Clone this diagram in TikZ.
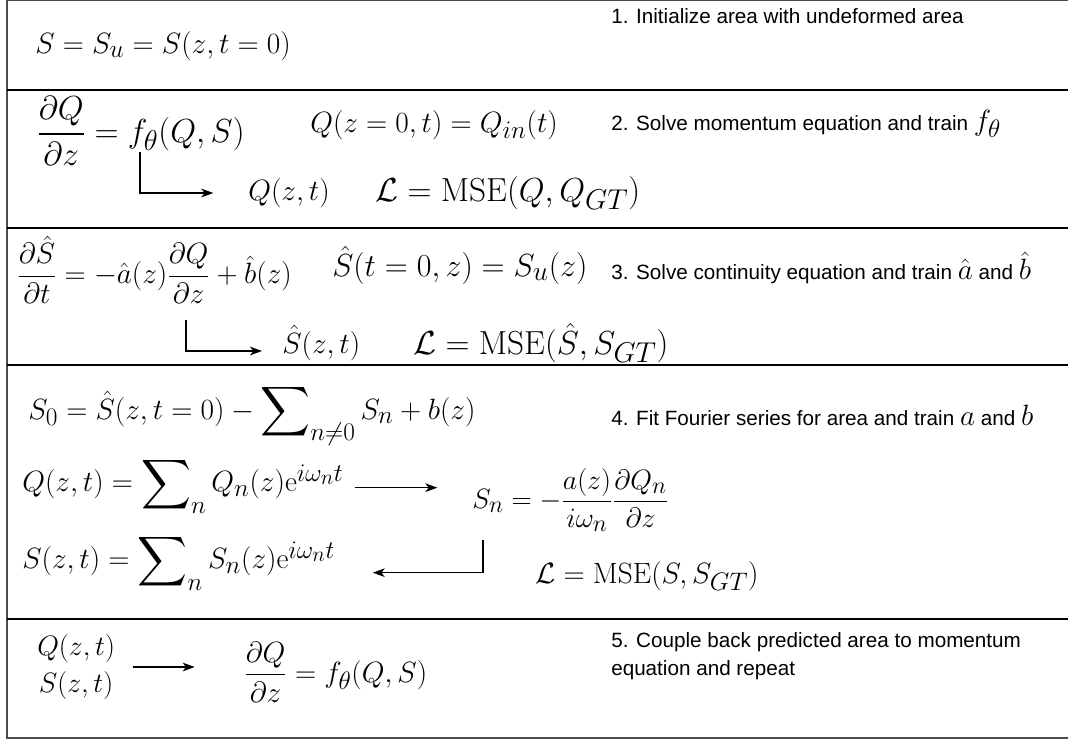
\RequirePackage{fix-cm}
\documentclass[tikz,border=0pt]{standalone}
\usepackage{amsmath}
\usepackage{graphicx}
\usepackage{fontspec}
\setsansfont{Liberation Sans}
\usetikzlibrary{arrows.meta}

\DeclareMathSizes{21}{21}{18}{15}
\DeclareMathSizes{22}{22}{19}{16}
\DeclareMathSizes{24}{24}{20.5}{17}
\DeclareMathSizes{25}{25}{21.5}{18}
\newcommand{\eqfont}{\fontsize{22}{26}\selectfont}
\newcommand{\eqsize}[1]{\fontsize{#1}{28}\selectfont}
\newcommand{\bigsum}{\mathop{\vcenter{\hbox{\scalebox{1.25}{$\displaystyle\sum$}}}}\nolimits}

\begin{document}
\begin{tikzpicture}[
    x=0.75pt, y=-0.75pt,
    eqn/.style={inner sep=0pt, anchor=west, font=\eqfont},
    note/.style={inner sep=0pt, anchor=west, font=\sffamily\fontsize{15.5}{21}\selectfont},
    sep/.style={line width=1.6pt},
    frame/.style={line width=0.9pt, black!70},
    flow/.style={-{Stealth[length=9pt, width=6.5pt, inset=2.5pt]}, line width=1pt}
]
\useasboundingbox (0,0) rectangle (1068,740);

% ===== FRAME AND SEPARATORS =====
\draw[frame] (1068,0.5) -- (7,0.5) -- (7,738) -- (1068,738);
\foreach \y in {90,228,365,619} \draw[sep] (7,\y) -- (1068,\y);

% ===== STEP 1: initial area =====
\node[eqn] (init) at (35,46) {$S = S_u = S(z,t=0)$};
\node[note] (step1) at (611,16) {1. Initialize area with undeformed area};

% ===== STEP 2: momentum equation =====
\node[eqn, font=\eqsize{25}] (mom) at (37,131) {$\displaystyle\frac{\partial Q}{\partial z} = f_\theta(Q,S)$};
\node[eqn] (momBC) at (310,125) {$Q(z=0,t) = Q_{in}(t)$};
\node[note] (step2) at (611,124) {2. Solve momentum equation and train {\eqfont$f_\theta$}};
\node[eqn] (Qzt) at (248,193) {$Q(z,t)$};
\node[eqn, font=\eqsize{25}] (lossQ) at (375,193) {$\mathcal{L} = \mathrm{MSE}(Q, Q_{GT})$};
\coordinate (k2) at (140,152);
\draw[flow, shorten >=26pt] (k2) |- (Qzt.west);

% ===== STEP 3: continuity equation =====
\node[eqn] (cont) at (17,270) {$\displaystyle\frac{\partial \hat{S}}{\partial t} = -\hat{a}(z)\frac{\partial Q}{\partial z} + \hat{b}(z)$};
\node[eqn, font=\eqsize{24}] (contIC) at (332,265) {$\hat{S}(t=0,z) = S_u(z)$};
\node[note] (step3) at (611,268) {3. Solve continuity equation and train {\eqfont$\hat{a}$} and {\eqfont$\hat{b}$}};
\node[eqn] (Shat) at (282,343) {$\hat{S}(z,t)$};
\node[eqn, font=\eqsize{25}] (lossS) at (413,343) {$\mathcal{L} = \mathrm{MSE}(\hat{S}, S_{GT})$};
\coordinate (k3) at (186,320);
\draw[flow, shorten >=15pt] (k3) |- ([yshift=-6pt]Shat.west);

% ===== STEP 4: Fourier series =====
\node[eqn] (S0) at (28,415) {$S_0 = \hat{S}(z,t=0) - \bigsum_{n\neq 0} S_n + b(z)$};
\node[note] (step4) at (611,415) {4. Fit Fourier series for area and train {\eqfont$a$} and {\eqfont$b$}};
\node[eqn] (Qsum) at (22,485) {$Q(z,t) = \bigsum_n Q_n(z) \mathrm{e}^{i\omega_n t}$};
\node[eqn, font=\eqsize{21}] (Sn) at (472,500) {$\displaystyle S_n = -\frac{a(z)}{i\omega_n}\frac{\partial Q_n}{\partial z}$};
\node[eqn] (Ssum) at (22,562) {$S(z,t) = \bigsum_n S_n(z) \mathrm{e}^{i\omega_n t}$};
\node[eqn] (lossF) at (535,576) {$\mathcal{L} = \mathrm{MSE}(S, S_{GT})$};
\draw[flow, shorten <=8pt, shorten >=26pt] ([yshift=-2pt]Qsum.east) -- ([yshift=-2pt]Qsum.east -| Sn.west);
\coordinate (k4) at (483,540);
\draw[flow, shorten >=28pt] (k4) |- ([yshift=-8pt]Ssum.east);

% ===== STEP 5: couple back =====
\node[eqn, font=\fontsize{21}{28}\selectfont, align=center] (QS) at (37,667) {$Q(z,t)$\\$S(z,t)$};
\node[eqn] (back) at (244,672) {$\displaystyle\frac{\partial Q}{\partial z} = f_\theta(Q,S)$};
\node[note, anchor=north west, align=left] (step5) at (611,632) {5. Couple back predicted area to momentum\\equation and repeat};
\draw[flow, shorten <=13pt, shorten >=37pt] (QS.east) -- (QS.east -| back.west);

\end{tikzpicture}
\end{document}
